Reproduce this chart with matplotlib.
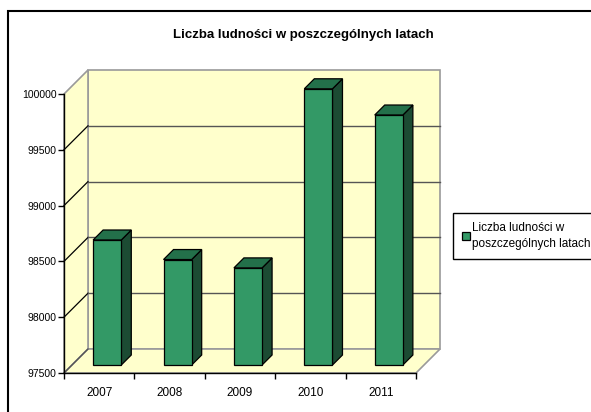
import numpy as np
import matplotlib
matplotlib.use('Agg')
import matplotlib.pyplot as plt
from matplotlib.patches import Polygon, Rectangle
from matplotlib.lines import Line2D
from matplotlib.transforms import IdentityTransform, offset_copy

# data
years = ['2007', '2008', '2009', '2010', '2011']
population = [98620, 98445, 98370, 99975, 99740]
y_ticks = [97500, 98000, 98500, 99000, 99500, 100000]
title = 'Liczba ludności w poszczególnych latach'
series_name = 'Liczba ludności w\nposzczególnych latach'

W, H = 591, 412
DEPTH = 24            # pixel shift of back wall (right and up)
BAR_D0, BAR_D1 = 8, 18  # depth of bar front / back
WALL = '#FFFFCC'
WALL_EDGE = '#9a9a9a'
FRONT, TOP, SIDE = '#339966', '#23704A', '#1C4B33'

plt.rcParams['font.family'] = ['Liberation Sans', 'DejaVu Sans']
fig = plt.figure(figsize=(W / 100, H / 100), dpi=100)
ax = fig.add_axes([64 / W, (H - 373) / H, 352 / W, 279 / H])
ax.patch.set_visible(False)
x = np.arange(len(years))
x0, x1 = -0.5, len(years) - 0.5
ax.set_xlim(x0, x1)
ax.set_ylim(y_ticks[0], y_ticks[-1])


def px(xv, yv, d):
    p = ax.transData.transform((xv, yv))
    return (p[0] + d, p[1] + d)


def face(pts, z, **kw):
    ax.add_patch(Polygon(pts, closed=True, transform=IdentityTransform(),
                         clip_on=False, zorder=z, **kw))


def seg(pts, z, **kw):
    xs, ys = zip(*pts)
    ax.add_line(Line2D(xs, ys, transform=IdentityTransform(), clip_on=False,
                       zorder=z, **kw))


lo, hi = y_ticks[0], y_ticks[-1]
# walls and floor
face([px(x0, lo, DEPTH), px(x1, lo, DEPTH), px(x1, hi, DEPTH), px(x0, hi, DEPTH)],
     0, facecolor=WALL, edgecolor=WALL_EDGE, lw=1.2)
face([px(x0, lo, 0), px(x0, lo, DEPTH), px(x0, hi, DEPTH), px(x0, hi, 0)],
     0, facecolor=WALL, edgecolor=WALL_EDGE, lw=1.2)
face([px(x0, lo, 0), px(x1, lo, 0), px(x1, lo, DEPTH), px(x0, lo, DEPTH)],
     0, facecolor=WALL, edgecolor=WALL_EDGE, lw=1.2)

# gridlines on side and back wall
for v in y_ticks[1:-1]:
    seg([px(x0, v, 0), px(x0, v, DEPTH)], 0.5, color='black', lw=0.9)
    seg([px(x0, v, DEPTH), px(x1, v, DEPTH)], 0.5, color='#555555', lw=1.0)
seg([px(x0, lo, 0), px(x0, lo, DEPTH)], 0.5, color='#555555', lw=1.0)

# bars: front faces through the axes, depth faces by shifting
width = 0.4
shift = offset_copy(ax.transData, fig=fig, x=BAR_D0, y=BAR_D0, units='dots')
bars = ax.bar(x, np.array(population) - lo, bottom=lo, width=width,
              color=FRONT, edgecolor='black', linewidth=0.9,
              transform=shift, zorder=3, clip_on=False)
for xi, v in zip(x, population):
    l, r = xi - width / 2, xi + width / 2
    face([px(r, lo, BAR_D0), px(r, lo, BAR_D1), px(r, v, BAR_D1), px(r, v, BAR_D0)],
         2.9, facecolor=SIDE, edgecolor='black', lw=0.9)
    face([px(l, v, BAR_D0), px(r, v, BAR_D0), px(r, v, BAR_D1), px(l, v, BAR_D1)],
         2.9, facecolor=TOP, edgecolor='black', lw=0.9)

# axes styling
for s in ['top', 'right']:
    ax.spines[s].set_visible(False)
for s in ['left', 'bottom']:
    ax.spines[s].set_color('black')
    ax.spines[s].set_linewidth(1.0)
    ax.spines[s].set_zorder(1)
ax.set_yticks(y_ticks)
ax.set_yticklabels([str(v) for v in y_ticks])
ax.tick_params(axis='y', direction='out', length=4, width=1, labelsize=7.5, pad=1.5)
ax.set_xticks(x)
ax.set_xticklabels(years)
ax.set_xticks(np.arange(x0, x1 + 0.01, 1.0), minor=True)
ax.tick_params(axis='x', which='major', length=0, labelsize=8.5, pad=10)
ax.tick_params(axis='x', which='minor', direction='out', length=4, width=1)

# title
fig.text(303 / W, 1 - 35 / H, title, ha='center', va='center',
         fontsize=9.5, fontweight='bold')

# legend
leg = fig.legend([bars], [series_name], loc='upper left',
                 bbox_to_anchor=(453 / W, 1 - 213 / H), fancybox=False,
                 edgecolor='black', framealpha=1, fontsize=8.5,
                 handlelength=0.7, handleheight=0.7, handletextpad=0.2,
                 borderpad=0.75, borderaxespad=0)
leg.get_frame().set_linewidth(1.0)
for t in leg.get_texts():
    t.set_linespacing(1.45)

# chart area border (runs off the right and bottom edge)
fig.add_artist(Rectangle((8 / W, -0.05), 1.2, 1 - 11 / H + 0.05,
                         transform=fig.transFigure, fill=False,
                         edgecolor='black', lw=1.5))

fig.savefig('out.png', dpi=100)
